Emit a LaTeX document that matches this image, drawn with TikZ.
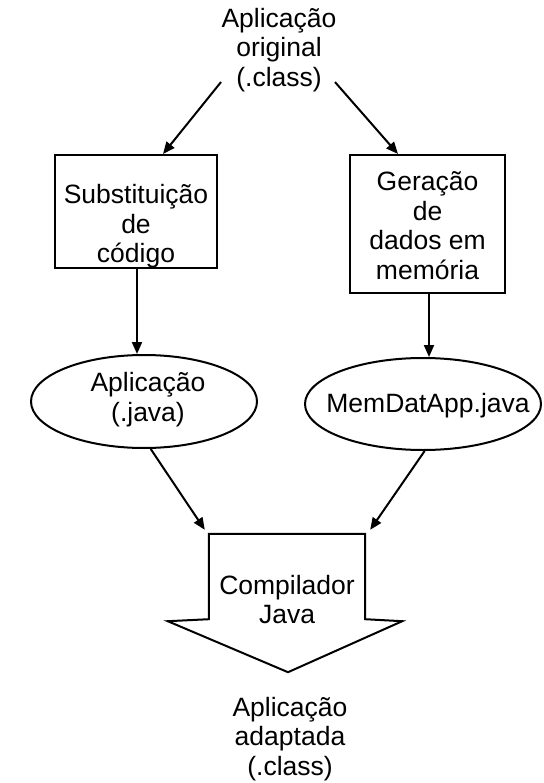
\documentclass[tikz,border=0pt]{standalone}
\usepackage{fontspec}
\setmainfont{Liberation Sans}
\usetikzlibrary{calc,arrows.meta,shapes.geometric}
\tikzset{
	txt/.style={align=center, inner sep=0pt, font=\fontsize{26.5}{29.5}\selectfont},
	box/.style={draw, line width=2pt},
	oval/.style={draw, ellipse, line width=2pt},
	arr/.style={line width=2pt, -{Triangle[length=12pt,width=10pt]}}
}

\begin{document}
\begin{tikzpicture}[x=1pt, y=-1pt]
			%%%%% START %%%%%
			\useasboundingbox (0, 0) rectangle (543, 783);
			
			\node[txt] (orig) at (279, 50) {Aplicação\\original\\(.class)};
			
			\node[box, minimum width=162, minimum height=113] (subst) at (136, 211.5) {};
			\node[txt] (substtxt) at ([yshift=-15pt]subst.center) {Substituição\\de\\código};
			
			\node[box, minimum width=155, minimum height=138] (gen) at (427.5, 224) {};
			\node[txt] (gentxt) at ([yshift=-1.5pt]gen.center) {Geração\\de\\dados em\\memória};
			
			\draw[arr] ($(orig.south)+(-58, -10)$) -- ($(subst.north)+(27, 0)$);
			\draw[arr] ($(orig.south)+(56, -10)$) -- ($(gen.north)+(-29.5, 0)$);
			
			\node[oval, minimum width=226, minimum height=93, inner sep=0pt] (lapp) at (144, 401.5) {};
			\node[txt] (lapptxt) at ([xshift=4pt, yshift=2pt]lapp.center) {Aplicação\\(.java)};
			
			\node[oval, minimum width=236, minimum height=92, inner sep=0pt] (mapp) at (423, 404) {};
			\node[txt] (mapptxt) at ([xshift=5pt, yshift=-2pt]mapp.center) {MemDatApp.java};
			
			\draw[arr] ([xshift=1pt]subst.south) -- ([xshift=1pt]subst.south |- lapp.north);
			\draw[arr] ([xshift=1.5pt]gen.south) -- ([xshift=1.5pt]gen.south |- mapp.north);
			
			% compilador: seta larga para baixo
			\node[minimum width=156, minimum height=85, inner sep=0pt] (comp) at (287, 576.5) {};
			\draw[line width=2pt, line join=miter] (comp.north west) -- (comp.north east)
				-- (comp.south east) -- ($(comp.south east)+(37, 2)$)
				-- ($(comp.south)+(1, 53)$)
				-- ($(comp.south west)+(-41, 2)$) -- (comp.south west) -- cycle;
			\node[txt] (comptxt) at ([yshift=-23pt]comp.center) {Compilador\\Java};
			
			\draw[arr] (lapp.-82) -- ($(comp.north west)+(-4, -4)$);
			\draw[arr] (mapp.-88) -- ($(comp.north east)+(5, -4)$);
			
			\node[txt] (adapt) at (290, 739) {Aplicação\\adaptada\\(.class)};
			%%%%% END %%%%%
		\end{tikzpicture}
\end{document}
